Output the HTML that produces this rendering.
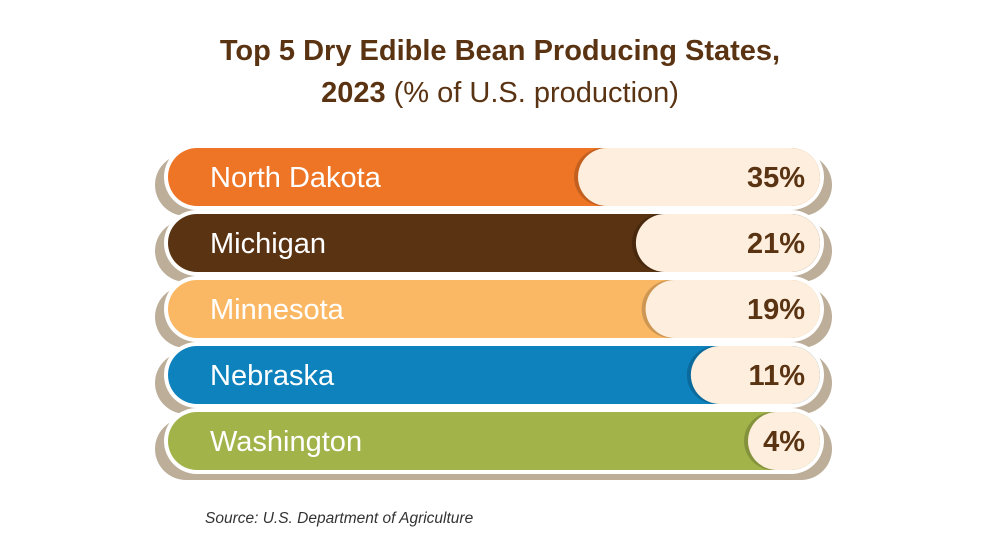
<!DOCTYPE html>
<html><head><meta charset="utf-8"><style>
body{margin:0;background:#fff;}
svg{display:block;font-family:"Liberation Sans",sans-serif;}
</style></head><body>
<svg id="chart" width="1000" height="560" viewBox="0 0 1000 560">
<text x="500" y="60" text-anchor="middle" font-size="29" font-weight="bold" fill="#5a3312">Top 5 Dry Edible Bean Producing States,</text>
<text x="500" y="102" text-anchor="middle" font-size="29" fill="#5a3312"><tspan font-weight="bold">2023</tspan> (% of U.S. production)</text>
<g id="bars"></g>
<text x="205" y="523" font-size="15.5" font-style="italic" fill="#333">Source: U.S. Department of Agriculture</text>
</svg>
<script>
const states = ["North Dakota","Michigan","Minnesota","Nebraska","Washington"];
const values = [35,21,19,11,4];
const labels = ["35%","21%","19%","11%","4%"];
const colors = ["#ee7526","#5a3312","#fbb864","#0e82bd","#a2b34a"];
const NS="http://www.w3.org/2000/svg";
const g=document.getElementById('bars');
function mk(t,a){const e=document.createElementNS(NS,t);for(const k in a)e.setAttribute(k,a[k]);g.appendChild(e);return e;}
function creamW(v){return -14.8+43.4*Math.sqrt(v);}
const x0=168,x1=820,h=58;
states.forEach((s,i)=>{
  const y=148+i*66;
  const sh=mk('rect',{x:155,y:y+6,width:677,height:h+4,rx:31,fill:'#bcae99'});
  
  
  const wb=mk('rect',{x:x0-4,y:y-4,width:x1-x0+8,height:h+8,rx:33,fill:'#fff'});
  
  
  const b=mk('rect',{x:x0,y:y,width:x1-x0,height:h,rx:29,fill:colors[i]});
  
  
  const cw=creamW(values[i]);
  const cs=mk('rect',{x:x1-cw-4,y:y,width:cw+4,height:h,rx:29,fill:'rgba(0,0,0,0.18)'});
  
  
  const c=mk('rect',{x:x1-cw,y:y,width:cw,height:h,rx:29,fill:'#fdeedd'});
  
  
  const t=mk('text',{x:210,y:y+39,'font-size':29,fill:'#fff'});
  t.textContent=s;
  
  
  const v=mk('text',{x:805,y:y+39,'font-size':29,'font-weight':'bold','text-anchor':'end',fill:'#5a3312'});
  v.textContent=labels[i];
  
  
});
</script>
</body></html>
